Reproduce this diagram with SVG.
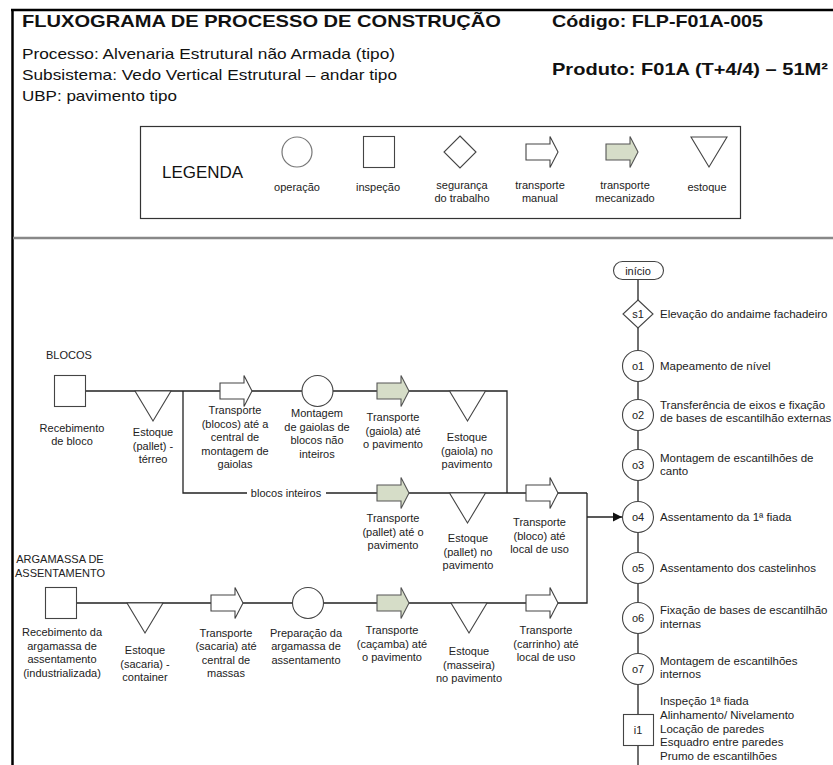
<svg xmlns="http://www.w3.org/2000/svg" xmlns:xlink="http://www.w3.org/1999/xlink" width="833" height="765" viewBox="0 0 833 765">
<style>
text{font-family:"Liberation Sans",Arial,sans-serif;fill:#222}
.h{font-size:17px;font-weight:bold;fill:#111}
.s{font-size:15px;fill:#111}
.t{font-size:11px;text-anchor:middle}
.l{font-size:11.5px}
.sh{fill:#fff;stroke:#444;stroke-width:1.1}
.man{fill:#fff;stroke:#444;stroke-width:1.1}
.mec{fill:#d6ddc8;stroke:#555;stroke-width:1.1}
.c{fill:none;stroke:#222;stroke-width:1.3}
</style>
<defs>
<path id="arr" d="M0,-8 H24 V-15.5 L32,0 L24,15.5 V8 H0 Z"/>
<path id="tri" d="M-18,0 H18 L0,30 Z"/>
<marker id="ah" markerWidth="10" markerHeight="10" refX="9" refY="5" orient="auto" markerUnits="userSpaceOnUse"><path d="M0,0.5 L9,5 L0,9.5 Z" fill="#111"/></marker>
</defs>
<g id="frame">
<line x1="12.5" y1="9" x2="12.5" y2="765" stroke="#000" stroke-width="2.5"/>
<line x1="11" y1="10" x2="833" y2="10" stroke="#000" stroke-width="2.5"/>
<line x1="13" y1="238" x2="833" y2="238" stroke="#888" stroke-width="2.5"/>
</g>
<g id="header">
<text class="h" x="22" y="27" textLength="479" lengthAdjust="spacingAndGlyphs">FLUXOGRAMA DE PROCESSO DE CONSTRUÇÃO</text>
<text class="h" x="552" y="27" textLength="211" lengthAdjust="spacingAndGlyphs">Código: FLP-F01A-005</text>
<text class="h" x="552" y="75" textLength="276" lengthAdjust="spacingAndGlyphs">Produto: F01A (T+4/4) – 51M²</text>
<text class="s" x="22" y="59" textLength="373" lengthAdjust="spacingAndGlyphs">Processo: Alvenaria Estrutural não Armada (tipo)</text>
<text class="s" x="22" y="80" textLength="375" lengthAdjust="spacingAndGlyphs">Subsistema: Vedo Vertical Estrutural – andar tipo</text>
<text class="s" x="22" y="101" textLength="155" lengthAdjust="spacingAndGlyphs">UBP: pavimento tipo</text>
</g>
<g id="legend">
<rect x="140.5" y="126.5" width="600" height="92" fill="none" stroke="#333" stroke-width="1.2"/>
<text x="162" y="178" style="font-size:16px;fill:#111" textLength="81" lengthAdjust="spacingAndGlyphs">LEGENDA</text>
<circle cx="297" cy="152" r="15" fill="#fff" stroke="#777" stroke-width="1.2"/>
<text class="t" x="297" y="191">operação</text>
<rect x="363.5" y="136.5" width="31" height="31" class="sh"/>
<text class="t" x="378" y="191">inspeção</text>
<path d="M460,136 L476,152 L460,168 L444,152 Z" class="sh"/>
<text class="t" x="462" y="189">segurança</text>
<text class="t" x="462" y="202">do trabalho</text>
<use xlink:href="#arr" href="#arr" x="526" y="152" class="man"/>
<text class="t" x="540" y="189">transporte</text>
<text class="t" x="540" y="202">manual</text>
<use xlink:href="#arr" href="#arr" x="606" y="152" class="mec"/>
<text class="t" x="625" y="189">transporte</text>
<text class="t" x="625" y="202">mecanizado</text>
<use xlink:href="#tri" href="#tri" x="709" y="137" class="sh"/>
<text class="t" x="707" y="191">estoque</text>
</g>
<g id="connectors">
<polyline class="c" points="86,391 507,391 507,493"/>
<polyline class="c" points="183,391 183,493 247,493"/>
<line class="c" x1="326" y1="493" x2="587" y2="493"/>
<polyline class="c" points="77,603 587,603 587,493"/>
<line class="c" x1="587" y1="517" x2="622" y2="517" marker-end="url(#ah)"/>
<line class="c" x1="638" y1="279" x2="638" y2="765"/>
<text class="t" x="286" y="497">blocos inteiros</text>
</g>
<g id="blocos-title"><text class="t" x="46" y="359" style="text-anchor:start">BLOCOS</text></g>
<g id="n-receb-bloco">
<rect x="54.5" y="375.5" width="31" height="31" class="sh"/>
<text class="t" x="72" y="432">Recebimento</text><text class="t" x="72" y="445">de bloco</text>
</g>
<g id="n-estoque-terreo">
<use xlink:href="#tri" href="#tri" x="153" y="391" class="sh"/>
<text class="t" x="153" y="436">Estoque</text><text class="t" x="153" y="449.5">(pallet) -</text><text class="t" x="153" y="463">térreo</text>
</g>
<g id="n-transp-blocos">
<use xlink:href="#arr" href="#arr" x="220" y="391" class="man"/>
<text class="t" x="235" y="414">Transporte</text><text class="t" x="235" y="427.5">(blocos) até a</text><text class="t" x="235" y="441">central de</text><text class="t" x="235" y="454.5">montagem de</text><text class="t" x="235" y="468">gaiolas</text>
</g>
<g id="n-montagem">
<circle cx="317.5" cy="391" r="15.5" class="sh"/>
<text class="t" x="317" y="417">Montagem</text><text class="t" x="317" y="430.5">de gaiolas de</text><text class="t" x="317" y="444">blocos não</text><text class="t" x="317" y="457.5">inteiros</text>
</g>
<g id="n-transp-gaiola">
<use xlink:href="#arr" href="#arr" x="377" y="391" class="mec"/>
<text class="t" x="393" y="421">Transporte</text><text class="t" x="393" y="434.5">(gaiola) até</text><text class="t" x="393" y="448">o pavimento</text>
</g>
<g id="n-estoque-gaiola">
<use xlink:href="#tri" href="#tri" x="467.5" y="391" class="sh"/>
<text class="t" x="467" y="441">Estoque</text><text class="t" x="467" y="454.5">(gaiola) no</text><text class="t" x="467" y="468">pavimento</text>
</g>
<g id="n-transp-pallet">
<use xlink:href="#arr" href="#arr" x="377" y="493" class="mec"/>
<text class="t" x="393" y="522">Transporte</text><text class="t" x="393" y="535.5">(pallet) até o</text><text class="t" x="393" y="549">pavimento</text>
</g>
<g id="n-estoque-pallet">
<use xlink:href="#tri" href="#tri" x="467.5" y="493" class="sh"/>
<text class="t" x="468" y="542">Estoque</text><text class="t" x="468" y="555.5">(pallet) no</text><text class="t" x="468" y="569">pavimento</text>
</g>
<g id="n-transp-bloco">
<use xlink:href="#arr" href="#arr" x="526" y="493" class="man"/>
<text class="t" x="539.5" y="526">Transporte</text><text class="t" x="539.5" y="539.5">(bloco) até</text><text class="t" x="539.5" y="553">local de uso</text>
</g>
<g id="argamassa-title">
<text class="t" x="60" y="563">ARGAMASSA DE</text><text class="t" x="60" y="577">ASSENTAMENTO</text>
</g>
<g id="n-receb-arg">
<rect x="45.5" y="587.5" width="31" height="31" class="sh"/>
<text class="t" x="62" y="636">Recebimento da</text><text class="t" x="62" y="649.5">argamassa de</text><text class="t" x="62" y="663">assentamento</text><text class="t" x="62" y="676.5">(industrializada)</text>
</g>
<g id="n-estoque-sacaria">
<use xlink:href="#tri" href="#tri" x="145" y="603" class="sh"/>
<text class="t" x="145" y="654">Estoque</text><text class="t" x="145" y="667.5">(sacaria) -</text><text class="t" x="145" y="681">container</text>
</g>
<g id="n-transp-sacaria">
<use xlink:href="#arr" href="#arr" x="211" y="603" class="man"/>
<text class="t" x="226" y="636.5">Transporte</text><text class="t" x="226" y="650">(sacaria) até</text><text class="t" x="226" y="663.5">central de</text><text class="t" x="226" y="677">massas</text>
</g>
<g id="n-preparacao">
<circle cx="308" cy="603" r="15.5" class="sh"/>
<text class="t" x="306" y="636.5">Preparação da</text><text class="t" x="306" y="650">argamassa de</text><text class="t" x="306" y="663.5">assentamento</text>
</g>
<g id="n-transp-cacamba">
<use xlink:href="#arr" href="#arr" x="377" y="603" class="mec"/>
<text class="t" x="392" y="634">Transporte</text><text class="t" x="392" y="647.5">(caçamba) até</text><text class="t" x="392" y="661">o pavimento</text>
</g>
<g id="n-estoque-masseira">
<use xlink:href="#tri" href="#tri" x="469" y="603" class="sh"/>
<text class="t" x="469" y="655">Estoque</text><text class="t" x="469" y="668.5">(masseira)</text><text class="t" x="469" y="682">no pavimento</text>
</g>
<g id="n-transp-carrinho">
<use xlink:href="#arr" href="#arr" x="526" y="603" class="man"/>
<text class="t" x="546" y="634">Transporte</text><text class="t" x="546" y="647.5">(carrinho) até</text><text class="t" x="546" y="661">local de uso</text>
</g>
<g id="n-inicio">
<rect x="613.5" y="261.5" width="50" height="18" rx="9" class="sh"/>
<text class="t" x="638" y="274.5">início</text>
</g>
<g id="n-s1">
<path d="M638,300 L653,314 L638,328 L623,314 Z" class="sh"/>
<text class="t" x="638" y="318">s1</text>
<text class="l" x="660" y="318">Elevação do andaime fachadeiro</text>
</g>
<g id="n-o1">
<circle cx="638" cy="366" r="15.5" class="sh"/><text class="t" x="638" y="370">o1</text>
<text class="l" x="660" y="370">Mapeamento de nível</text>
</g>
<g id="n-o2">
<circle cx="638" cy="415" r="15.5" class="sh"/><text class="t" x="638" y="419">o2</text>
<text class="l" x="660" y="409">Transferência de eixos e fixação</text><text class="l" x="660" y="422">de bases de escantilhão externas</text>
</g>
<g id="n-o3">
<circle cx="638" cy="465" r="15.5" class="sh"/><text class="t" x="638" y="469">o3</text>
<text class="l" x="660" y="462">Montagem de escantilhões de</text><text class="l" x="660" y="475">canto</text>
</g>
<g id="n-o4">
<circle cx="638" cy="517" r="15.5" class="sh"/><text class="t" x="638" y="521">o4</text>
<text class="l" x="660" y="521">Assentamento da 1ª fiada</text>
</g>
<g id="n-o5">
<circle cx="638" cy="568" r="15.5" class="sh"/><text class="t" x="638" y="572">o5</text>
<text class="l" x="660" y="572">Assentamento dos castelinhos</text>
</g>
<g id="n-o6">
<circle cx="638" cy="618" r="15.5" class="sh"/><text class="t" x="638" y="622">o6</text>
<text class="l" x="660" y="614">Fixação de bases de escantilhão</text><text class="l" x="660" y="628">internas</text>
</g>
<g id="n-o7">
<circle cx="638" cy="669" r="15.5" class="sh"/><text class="t" x="638" y="673">o7</text>
<text class="l" x="660" y="665">Montagem de escantilhões</text><text class="l" x="660" y="678">internos</text>
</g>
<g id="n-i1">
<rect x="623.5" y="714.5" width="30" height="31" class="sh"/><text class="t" x="638" y="734">i1</text>
<text class="l" x="660" y="705">Inspeção 1ª fiada</text><text class="l" x="660" y="719">Alinhamento/ Nivelamento</text><text class="l" x="660" y="733">Locação de paredes</text><text class="l" x="660" y="746">Esquadro entre paredes</text><text class="l" x="660" y="760">Prumo de escantilhões</text>
</g>
</svg>
